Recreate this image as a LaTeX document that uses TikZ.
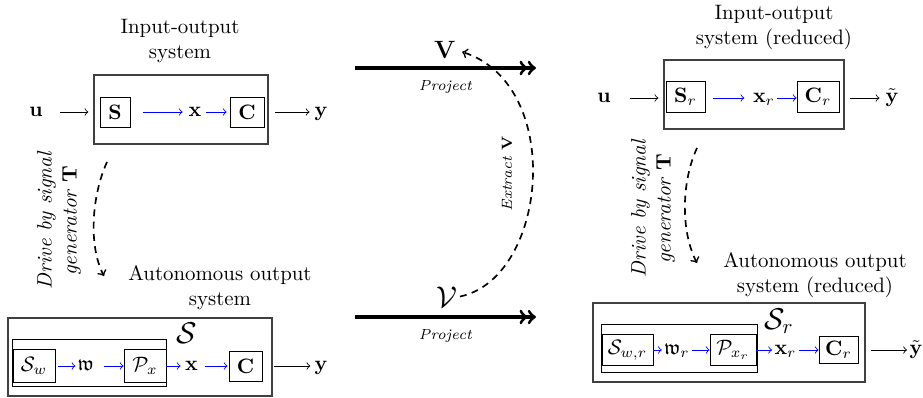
\documentclass[tikz,border=0pt]{standalone}
\usepackage{amsmath,amssymb}
\begin{document}
\begin{tikzpicture}[x=0.4795pt,y=-0.4795pt,
  sbox/.style 2 args={draw, inner sep=0pt, minimum width={#1*0.4795pt}, minimum height={#2*0.4795pt}},
  obox/.style 2 args={draw=black!75, line width=0.6pt, inner sep=0pt, minimum width={#1*0.4795pt}, minimum height={#2*0.4795pt}},
  lab/.style={inner sep=1pt, text height=4.6pt, text depth=0pt},
  big/.style={inner sep=0pt, font=\Large},
  title/.style={align=center, inner sep=0pt},
  sig/.style={->},
  bsig/.style={->, blue},
  proj/.style={->>, line width=1.5pt},
  drive/.style={->, thick, dash pattern=on 3.3pt off 2.6pt},
  side/.style={rotate=90, align=center, font=\itshape, inner sep=0pt},
  smalllab/.style={font=\scriptsize\itshape}
]
\useasboundingbox (0,0) rectangle (923,398);

% ---------- top-left: input-output system ----------
\node[title] (tL) at (180,41) {Input-output\\system};
\node[obox={174}{69}] (oL) at (181,109.5) {};
\node[lab] (uL) at (36,112) {$\mathbf{u}$};
\node[sbox={30}{30}] (SL) at (115,112) {$\mathbf{S}$};
\node[lab] (xL) at (195,112) {$\mathbf{x}$};
\node[sbox={34}{30}] (CL) at (247,112) {$\mathbf{C}$};
\node[lab] (yL) at (321,112) {$\mathbf{y}$};
\draw[sig, shorten <=7.3pt, shorten >=2.4pt] (uL.east) -- (uL.east -| oL.west);
\draw[bsig, shorten <=5.8pt, shorten >=1.7pt] (SL.east |- xL) -- (xL.west);
\draw[bsig, shorten <=1.2pt, shorten >=1.4pt] (xL.east) -- (xL.east -| CL.west);
\draw[sig, shorten <=2.9pt, shorten >=1.2pt] (oL.east |- yL) -- (yL.west);

% ---------- drive arrow left ----------
\coordinate (dL1) at (107,162);
\coordinate (dL2) at (104,276);
\draw[drive] (dL1) .. controls (92,195) and (88,245) .. (dL2);
\node[side] (sL) at (59,221) {Drive by signal\\generator $\mathbf{T}$};

% ---------- bottom-left: autonomous output system ----------
\node[title] (tBL) at (220,288) {Autonomous output\\system};
\node[obox={264}{78}] (oBL) at (140,357) {};
\node[sbox={154}{47}] (iBL) at (89,362.5) {};
\node[sbox={42}{33}] (Sw) at (34,366) {$\mathcal{S}_w$};
\node[lab] (wL) at (86,366) {$\mathfrak{w}$};
\node[sbox={42}{33}] (Px) at (145,366) {$\mathcal{P}_x$};
\node[lab] (xBL) at (191.5,366) {$\mathbf{x}$};
\node[sbox={33}{30}] (CBL) at (245.5,366) {$\mathbf{C}$};
\node[lab] (yBL) at (321,366) {$\mathbf{y}$};
\node[big] (SS) at (187,333) {$\mathcal{S}$};
\draw[bsig, shorten <=1pt] (Sw.east |- wL) -- (wL.west);
\draw[bsig, shorten <=3.8pt] (wL.east) -- (wL.east -| Px.west);
\draw[bsig, shorten >=1pt] (Px.east |- xBL) -- (xBL.west);
\draw[bsig, shorten <=2pt, shorten >=0.5pt] (xBL.east) -- (xBL.east -| CBL.west);
\draw[sig, shorten <=0.5pt, shorten >=0.8pt] (oBL.east |- yBL) -- (yBL.west);

% ---------- middle: projections ----------
\coordinate (p1s) at (355,68);
\coordinate (p1e) at (536,68);
\draw[proj] (p1s) -- node[smalllab, below=2pt] (pl1) {Project} (p1e);
\coordinate (p2s) at (355,317);
\coordinate (p2e) at (536,317);
\draw[proj] (p2s) -- node[smalllab, below=2pt] (pl2) {Project} (p2e);
\node[inner sep=0pt, font=\large] (Vb) at (445,50) {$\mathbf{V}$};
\node[big] (Vc) at (447,297) {$\mathcal{V}$};
\draw[drive, shorten >=3pt, shorten <=1pt] (Vc.east) .. controls (548,278) and (565,85) .. (Vb.east);
\node[side, font=\scriptsize\itshape] (ex) at (507,174) {Extract $\mathbf{V}$};

% ---------- top-right: reduced input-output system ----------
\node[title] (tTR) at (774,27) {Input-output\\system (reduced)};
\node[obox={180}{69}] (oR) at (754,94.5) {};
\node[lab] (uR) at (604,98) {$\mathbf{u}$};
\node[sbox={39}{31}] (SR) at (685.5,97) {$\mathbf{S}_r$};
\node[lab] (xR) at (764,98) {$\mathbf{x}_r$};
\node[sbox={42}{31}] (CR) at (818,97) {$\mathbf{C}_r$};
\node[lab] (yR) at (892,98) {$\tilde{\mathbf{y}}$};
\draw[sig, shorten <=8.2pt, shorten >=2.4pt] (uR.east) -- (uR.east -| oR.west);
\draw[bsig, shorten <=3.4pt, shorten >=3pt] (SR.east |- xR) -- (xR.west);
\draw[bsig] (xR.east) -- (xR.east -| CR.west);
\draw[sig, shorten <=2.4pt, shorten >=1.7pt] (oR.east |- yR) -- (yR.west);

% ---------- drive arrow right ----------
\coordinate (dR1) at (697,148);
\coordinate (dR2) at (697,263);
\draw[drive] (dR1) .. controls (682,180) and (680,230) .. (dR2);
\node[side] (sR) at (653,209) {Drive by signal\\generator $\mathbf{T}$};

% ---------- bottom-right: reduced autonomous system ----------
\node[title] (tBR) at (815,275) {Autonomous output\\system (reduced)};
\node[obox={272}{79}] (oBR) at (729,342.5) {};
\node[sbox={156}{48}] (iBR) at (679,348) {};
\node[sbox={51}{31}] (Swr) at (627.5,350) {$\mathcal{S}_{w,r}$};
\node[lab] (wR) at (677,350) {$\mathfrak{w}_r$};
\node[sbox={46}{31}] (Pxr) at (733,350) {$\mathcal{P}_{x_r}$};
\node[lab] (xBR) at (785.5,350) {$\mathbf{x}_r$};
\node[sbox={39}{27}] (CBR) at (838.5,350) {$\mathbf{C}_r$};
\node[lab] (yBR) at (916,350) {$\tilde{\mathbf{y}}$};
\node[big] (SSr) at (779,321) {$\mathcal{S}_r$};
\draw[bsig] (Swr.east |- wR) -- (wR.west);
\draw[bsig] (wR.east) -- (wR.east -| Pxr.west);
\draw[bsig] (Pxr.east |- xBR) -- (xBR.west);
\draw[bsig] (xBR.east) -- (xBR.east -| CBR.west);
\draw[sig, shorten <=2.4pt] (oBR.east |- yBR) -- (yBR.west);
\end{tikzpicture}
\end{document}
